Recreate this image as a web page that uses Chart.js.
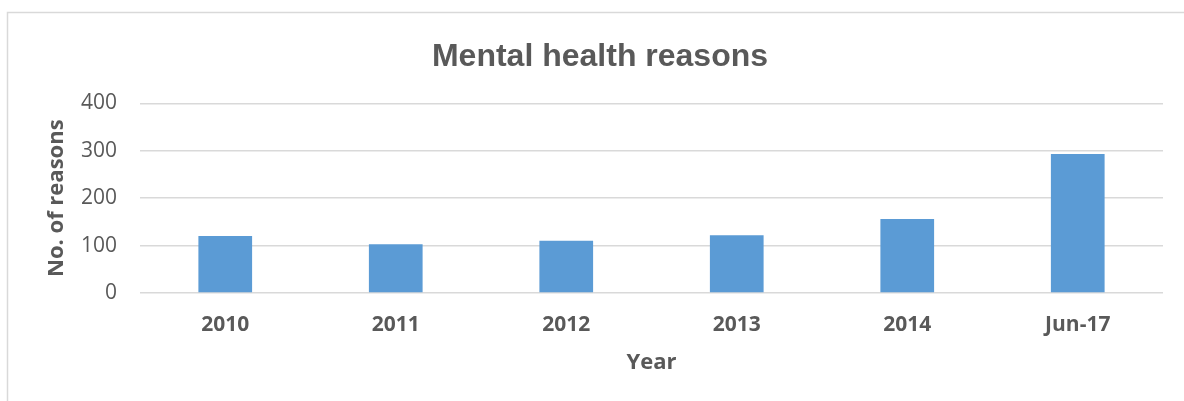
<!DOCTYPE html>
<html lang="en">
<head>
    <meta charset="UTF-8">
    <title>Mental health reasons</title>
    <script src="https://cdn.jsdelivr.net/npm/chart.js"></script>
    <style>
        html, body { margin: 0; padding: 0; background: #ffffff; }
        canvas { display: block; }
    </style>
</head>
<body>
    <canvas id="reasonsChart" width="1184" height="401"></canvas>

    <script>
        // Data
        const years = ['2010', '2011', '2012', '2013', '2014', 'Jun-17'];
        const reasonCounts = [120, 103, 110, 122, 156, 293];
        const yTicks = [0, 100, 200, 300, 400];

        const textGrey = '#595959';
        const lineGrey = '#D9D9D9';

        // Thin frame around the chart (left and top edges visible)
        const framePlugin = {
            id: 'frame',
            beforeDraw(chart) {
                const ctx = chart.ctx;
                ctx.save();
                ctx.strokeStyle = lineGrey;
                ctx.lineWidth = 1.5;
                ctx.strokeRect(7.5, 12.5, 1190, 400);
                ctx.restore();
            }
        };

        const ctx = document.getElementById('reasonsChart').getContext('2d');
        new Chart(ctx, {
            type: 'bar',
            data: {
                labels: years,
                datasets: [{
                    label: 'No. of reasons',
                    data: reasonCounts,
                    backgroundColor: '#5B9BD5',
                    borderWidth: 0,
                    categoryPercentage: 1,
                    barPercentage: 0.315
                }]
            },
            options: {
                responsive: false,
                animation: false,
                // left padding keeps the title centred over the whole frame
                layout: { padding: { top: 13, right: 21, bottom: 0, left: 37 } },
                plugins: {
                    legend: { display: false },
                    tooltip: { enabled: false },
                    title: {
                        display: true,
                        text: 'Mental health reasons',
                        color: textGrey,
                        font: { family: 'Liberation Sans, Arial, sans-serif', size: 32, weight: 'bold' },
                        padding: { top: 25, bottom: 27 }
                    }
                },
                scales: {
                    x: {
                        grid: { display: false, drawTicks: false },
                        border: { display: false },
                        ticks: {
                            color: textGrey,
                            padding: 19,
                            font: { family: 'Open Sans', size: 21, weight: 'bold' }
                        },
                        title: {
                            display: true,
                            text: 'Year',
                            color: textGrey,
                            font: { family: 'Open Sans', size: 22, weight: 'bold' },
                            padding: { top: 0, bottom: 25 }
                        },
                        afterFit(scale) { scale.height = 108; }
                    },
                    y: {
                        min: 0,
                        max: 400,
                        afterBuildTicks(scale) {
                            scale.ticks = yTicks.map(v => ({ value: v }));
                        },
                        grid: { color: lineGrey, lineWidth: 1.5, drawTicks: false },
                        border: { display: false },
                        ticks: {
                            color: textGrey,
                            padding: 23,
                            font: { family: 'Open Sans', size: 21 }
                        },
                        title: {
                            display: true,
                            text: 'No. of reasons',
                            color: textGrey,
                            font: { family: 'Open Sans', size: 22, weight: 'bold' },
                            padding: { top: 7, bottom: 0 }
                        },
                        afterFit(scale) { scale.width = 103; }
                    }
                }
            },
            plugins: [framePlugin]
        });
    </script>
</body>
</html>
